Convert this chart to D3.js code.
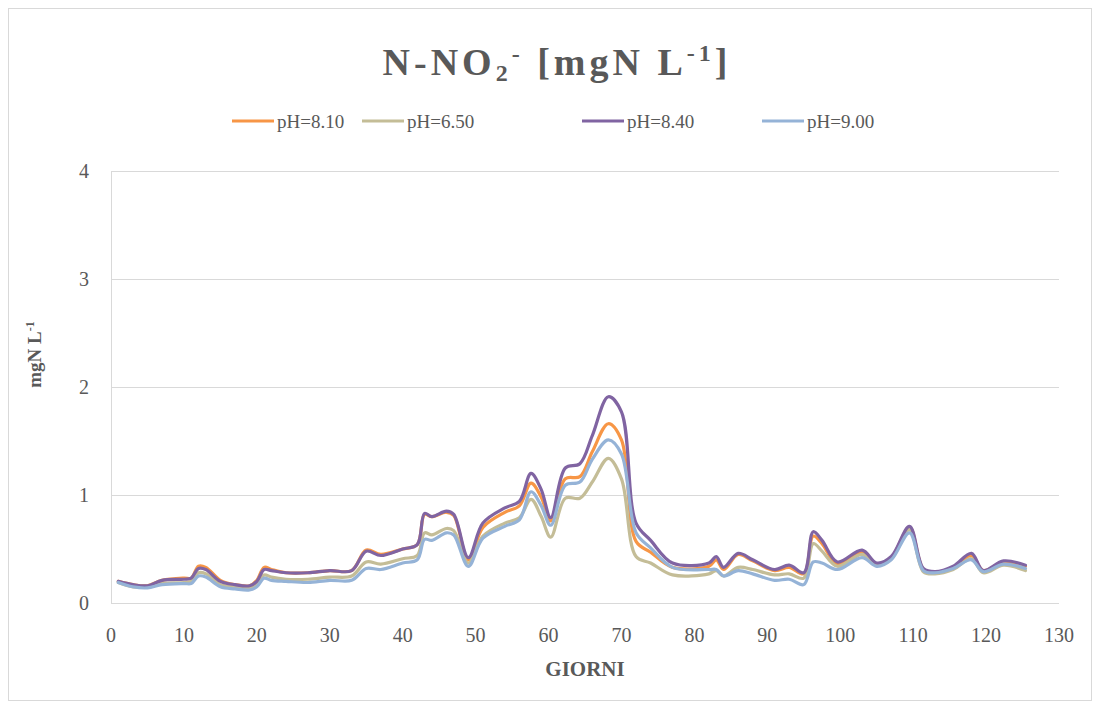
<!DOCTYPE html>
<html>
<head>
<meta charset="utf-8">
<script src="https://cdn.jsdelivr.net/npm/d3@7"></script>
<style>
  body { margin: 0; background: #fff; }
  text { font-family: "Liberation Serif", "Times New Roman", serif; fill: #595959; }
</style>
</head>
<body>
<div id="chart"></div>
<script>
// days of sampling
const days = [1, 3, 5, 7, 10, 11, 12, 13, 15, 17, 19, 20, 21, 22, 24, 27, 30, 33, 35, 37,
  40, 42, 43, 44, 46, 47, 49, 51, 54, 56, 57.6, 59, 60.3, 62.3, 64.3, 66, 68.2, 70, 72, 74,
  77, 82, 83, 84, 86, 88, 91, 93, 95, 96.3, 97.5, 99.6, 103, 105, 107, 109.5, 111.4, 113, 115.5, 118,
  119.6, 122.4, 125.4];

const ph810 = [0.20, 0.17, 0.16, 0.21, 0.23, 0.23, 0.34, 0.33, 0.21, 0.17, 0.16, 0.21, 0.33, 0.31, 0.28, 0.28, 0.30, 0.30, 0.49, 0.45,
  0.50, 0.54, 0.82, 0.80, 0.84, 0.81, 0.40, 0.70, 0.84, 0.90, 1.11, 0.98, 0.76, 1.15, 1.17, 1.40, 1.66, 1.51, 0.57, 0.47,
  0.33, 0.34, 0.40, 0.31, 0.45, 0.39, 0.30, 0.33, 0.27, 0.62, 0.55, 0.36, 0.47, 0.36, 0.42, 0.70, 0.31, 0.28, 0.33, 0.44,
  0.30, 0.38, 0.34];
const ph650 = [0.19, 0.15, 0.15, 0.18, 0.19, 0.20, 0.28, 0.27, 0.17, 0.15, 0.14, 0.17, 0.26, 0.24, 0.22, 0.22, 0.24, 0.25, 0.38, 0.36,
  0.41, 0.44, 0.65, 0.63, 0.69, 0.67, 0.37, 0.62, 0.74, 0.79, 0.96, 0.80, 0.61, 0.97, 0.97, 1.12, 1.34, 1.15, 0.43, 0.37,
  0.26, 0.27, 0.30, 0.25, 0.33, 0.31, 0.26, 0.27, 0.23, 0.55, 0.48, 0.34, 0.45, 0.35, 0.41, 0.68, 0.29, 0.27, 0.31, 0.41,
  0.28, 0.35, 0.30];
const ph840 = [0.20, 0.17, 0.16, 0.21, 0.22, 0.23, 0.32, 0.31, 0.20, 0.17, 0.16, 0.20, 0.31, 0.30, 0.28, 0.28, 0.30, 0.30, 0.48, 0.44,
  0.50, 0.54, 0.83, 0.80, 0.85, 0.82, 0.42, 0.74, 0.88, 0.94, 1.20, 1.05, 0.79, 1.25, 1.29, 1.55, 1.91, 1.77, 0.74, 0.58,
  0.37, 0.37, 0.43, 0.33, 0.46, 0.40, 0.31, 0.35, 0.28, 0.66, 0.58, 0.38, 0.49, 0.37, 0.43, 0.71, 0.32, 0.29, 0.34, 0.46,
  0.30, 0.39, 0.35];
const ph900 = [0.19, 0.15, 0.14, 0.17, 0.18, 0.18, 0.25, 0.24, 0.15, 0.13, 0.12, 0.15, 0.23, 0.21, 0.20, 0.19, 0.21, 0.21, 0.32, 0.31,
  0.37, 0.40, 0.59, 0.58, 0.65, 0.63, 0.34, 0.60, 0.71, 0.77, 1.03, 0.90, 0.72, 1.09, 1.12, 1.33, 1.51, 1.38, 0.65, 0.51,
  0.33, 0.31, 0.31, 0.25, 0.30, 0.27, 0.21, 0.22, 0.17, 0.38, 0.37, 0.31, 0.42, 0.34, 0.40, 0.65, 0.30, 0.28, 0.32, 0.40,
  0.29, 0.36, 0.32];

const seriesNames = ["pH=8.10", "pH=6.50", "pH=8.40", "pH=9.00"];
const seriesValues = [ph810, ph650, ph840, ph900];
const seriesColors = ["#F79646", "#C4BD97", "#8064A2", "#95B3D7"];
const xTicks = d3.range(0, 131, 10);
const yTicks = [0, 1, 2, 3, 4];

const width = 1099, height = 709;
const margin = { left: 111, right: 40, top: 171, bottom: 106 };

const svg = d3.select("#chart").append("svg")
  .attr("width", width)
  .attr("height", height);

// chart border
svg.append("rect")
  .attr("x", 8.5).attr("y", 8.5)
  .attr("width", 1083).attr("height", 692)
  .attr("fill", "#fff").attr("stroke", "#d9d9d9");

const x = d3.scaleLinear().domain([0, 130]).range([margin.left, width - margin.right]);
const y = d3.scaleLinear().domain([0, 4]).range([height - margin.bottom, margin.top]);

// gridlines
svg.append("g").selectAll("line")
  .data(yTicks.slice(1))
  .join("line")
  .attr("x1", x(0)).attr("x2", x(130))
  .attr("y1", d => Math.round(y(d)) + 0.5).attr("y2", d => Math.round(y(d)) + 0.5)
  .attr("stroke", "#d9d9d9");

// axes lines
svg.append("line")
  .attr("x1", x(0)).attr("x2", x(130))
  .attr("y1", Math.round(y(0)) + 0.5).attr("y2", Math.round(y(0)) + 0.5)
  .attr("stroke", "#d9d9d9");
svg.append("line")
  .attr("x1", Math.round(x(0)) + 0.5).attr("x2", Math.round(x(0)) + 0.5)
  .attr("y1", y(0)).attr("y2", y(4))
  .attr("stroke", "#d9d9d9");

// tick labels
svg.append("g").selectAll("text")
  .data(yTicks)
  .join("text")
  .attr("x", 89).attr("y", d => y(d) + 7)
  .attr("text-anchor", "end")
  .style("font-size", "20px")
  .text(d => d);

svg.append("g").selectAll("text")
  .data(xTicks)
  .join("text")
  .attr("x", d => x(d)).attr("y", y(0) + 39)
  .attr("text-anchor", "middle")
  .style("font-size", "20px")
  .text(d => d);

// axis titles
svg.append("text")
  .attr("x", x(65)).attr("y", 676)
  .attr("text-anchor", "middle")
  .style("font-size", "21px").style("font-weight", "bold")
  .text("GIORNI");

const yTitle = svg.append("text")
  .attr("transform", `translate(41, ${y(2.3)}) rotate(-90)`)
  .attr("text-anchor", "middle")
  .style("font-size", "19px").style("font-weight", "bold");
yTitle.append("tspan").text("mgN L");
yTitle.append("tspan").attr("dy", -7).style("font-size", "12px").text("-1");

// title
const title = svg.append("text")
  .attr("x", 557).attr("y", 75)
  .attr("text-anchor", "middle")
  .style("font-size", "38px").style("font-weight", "bold")
  .style("letter-spacing", "4px");
title.append("tspan").text("N-NO");
title.append("tspan").attr("dy", 6).style("font-size", "24px").text("2");
title.append("tspan").attr("dy", -19).style("font-size", "24px").text("-");
title.append("tspan").attr("dy", 13).text(" [mgN L");
title.append("tspan").attr("dy", -14).style("font-size", "24px").text("-1");
title.append("tspan").attr("dy", 14).text("]");

// legend
const legendX = [232, 362, 582, 762];
const legend = svg.append("g").selectAll("g")
  .data(seriesNames)
  .join("g")
  .attr("transform", (d, i) => `translate(${legendX[i]}, 121)`);
legend.append("line")
  .attr("x1", 0).attr("x2", 42)
  .attr("stroke", (d, i) => seriesColors[i])
  .attr("stroke-width", 3);
legend.append("text")
  .attr("x", 45).attr("y", 7)
  .style("font-size", "19px")
  .text(d => d);

// series lines
const line = d3.line()
  .x((d, i) => x(days[i]))
  .y(d => y(d))
  .curve(d3.curveCatmullRom.alpha(0.5));

svg.append("g").selectAll("path")
  .data(seriesValues)
  .join("path")
  .attr("d", line)
  .attr("fill", "none")
  .attr("stroke", (d, i) => seriesColors[i])
  .attr("stroke-width", 3.2)
  .attr("stroke-linejoin", "round")
  .attr("stroke-linecap", "round");
</script>
</body>
</html>
